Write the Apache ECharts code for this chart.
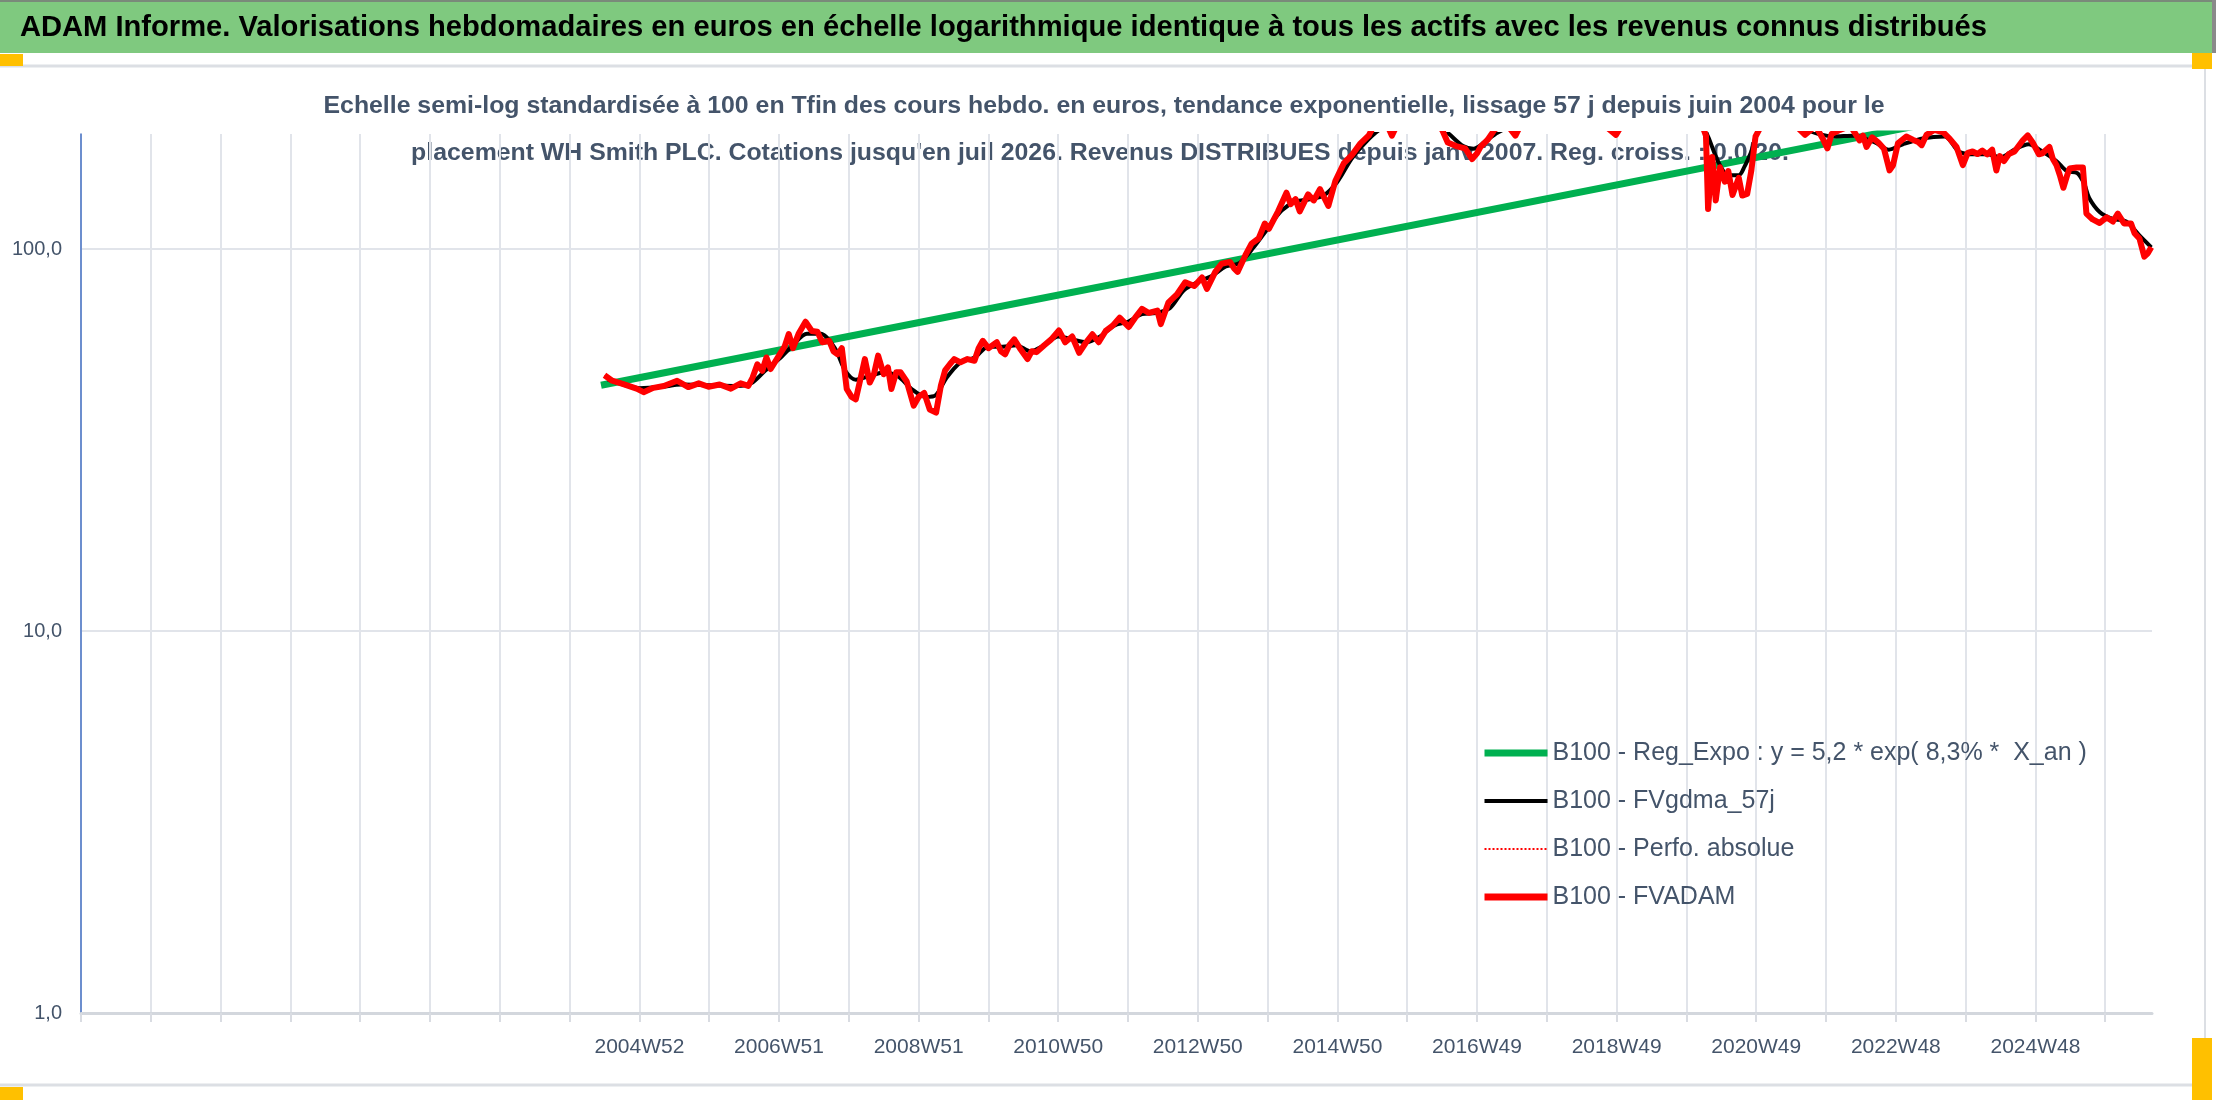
<!DOCTYPE html>
<html>
<head>
<meta charset="utf-8">
<script src="https://cdn.jsdelivr.net/npm/echarts@6/dist/echarts.min.js"></script>
<style>
  html, body { margin: 0; padding: 0; background: #fff; }
  #chart { width: 2216px; height: 1102px; }
</style>
</head>
<body>
<div id="chart"></div>
<script>
// Positions on x are in "year" units of the grid (one gridline = 52 weeks)
const xTickYears = [2005, 2007, 2009, 2011, 2013, 2015, 2017, 2019, 2021, 2023, 2025];
const xTickLabels = ['2004W52', '2006W51', '2008W51', '2010W50', '2012W50', '2014W50',
  '2016W49', '2018W49', '2020W49', '2022W48', '2024W48'];

// B100 - Reg_Expo (straight line in log scale)
const regX = [2004.45, 2026.67];
const regY = [44, 278];

// B100 - FVADAM (weekly valuation)
const fvX = [2004.50, 2004.61, 2004.77, 2004.96, 2005.06, 2005.20, 2005.35, 2005.54, 2005.70, 2005.85,
  2005.99, 2006.15, 2006.31, 2006.45, 2006.56, 2006.62, 2006.69, 2006.76, 2006.82, 2006.88,
  2007.01, 2007.08, 2007.14, 2007.20, 2007.28, 2007.38, 2007.47, 2007.55, 2007.62, 2007.72,
  2007.78, 2007.84, 2007.90, 2007.97, 2008.04, 2008.10, 2008.17, 2008.23, 2008.30, 2008.36,
  2008.42, 2008.50, 2008.56, 2008.61, 2008.68, 2008.74, 2008.83, 2008.93, 2009.00, 2009.08,
  2009.16, 2009.25, 2009.32, 2009.38, 2009.45, 2009.51, 2009.60, 2009.70, 2009.80, 2009.86,
  2009.92, 2010.00, 2010.12, 2010.18, 2010.24, 2010.30, 2010.37, 2010.45, 2010.56, 2010.62,
  2010.69, 2010.80, 2010.90, 2011.01, 2011.10, 2011.20, 2011.30, 2011.40, 2011.49, 2011.58,
  2011.68, 2011.78, 2011.88, 2012.01, 2012.10, 2012.20, 2012.30, 2012.42, 2012.47, 2012.58,
  2012.70, 2012.82, 2012.95, 2013.06, 2013.13, 2013.25, 2013.34, 2013.46, 2013.52, 2013.57,
  2013.68, 2013.77, 2013.87, 2013.96, 2014.02, 2014.15, 2014.27, 2014.33, 2014.40, 2014.46,
  2014.58, 2014.66, 2014.75, 2014.87, 2014.97, 2015.09, 2015.21, 2015.33, 2015.45, 2015.55,
  2015.65, 2015.78, 2015.90, 2016.10, 2016.30, 2016.50, 2016.58, 2016.70, 2016.83, 2016.93,
  2017.00, 2017.05, 2017.15, 2017.25, 2017.40, 2017.55, 2017.70, 2018.00, 2018.40, 2018.70,
  2018.99, 2019.20, 2019.60, 2019.90, 2020.15, 2020.25, 2020.28, 2020.31, 2020.37, 2020.42,
  2020.48, 2020.55, 2020.60, 2020.66, 2020.75, 2020.80, 2020.87, 2020.93, 2020.99, 2021.10,
  2021.40, 2021.70, 2021.85, 2021.95, 2022.02, 2022.08, 2022.20, 2022.35, 2022.48, 2022.53,
  2022.58, 2022.66, 2022.75, 2022.83, 2022.91, 2022.96, 2023.03, 2023.15, 2023.25, 2023.32,
  2023.37, 2023.44, 2023.55, 2023.68, 2023.77, 2023.87, 2023.96, 2024.03, 2024.10, 2024.17,
  2024.24, 2024.31, 2024.38, 2024.44, 2024.49, 2024.55, 2024.62, 2024.70, 2024.82, 2024.89,
  2024.96, 2025.05, 2025.10, 2025.20, 2025.25, 2025.30, 2025.35, 2025.40, 2025.45, 2025.49,
  2025.59, 2025.68, 2025.70, 2025.73, 2025.82, 2025.92, 2026.02, 2026.11, 2026.18, 2026.27,
  2026.37, 2026.42, 2026.49, 2026.56, 2026.61, 2026.66];
const fvY = [46.7, 45.2, 44.3, 43.1, 42.2, 43.3, 43.8, 45.2, 43.5, 44.5,
  43.6, 44.2, 43.1, 44.5, 43.8, 46, 49.9, 48, 52.0, 48.5,
  53.0, 55.5, 59.9, 55, 60, 64.5, 61, 60.7, 57, 57.5,
  54, 53, 55, 43, 41, 40.4, 46, 51.5, 44.7, 47,
  52.6, 47, 49, 43.0, 47.6, 47.6, 45, 38.9, 41, 42.0,
  38, 37.3, 44, 48.1, 50, 51.5, 50.5, 51.5, 51.0, 55,
  57.5, 55, 57, 54, 53, 56, 58, 55, 51.5, 54,
  53.7, 56, 58, 61.2, 57, 59, 53.5, 57, 59.8, 57,
  61, 63, 66.1, 62.5, 66, 69.7, 68, 69, 63.6, 72.5,
  76, 81.8, 80, 84.2, 78.6, 87.1, 91.5, 92.5, 89, 87.1,
  96.2, 103.3, 106.5, 116.6, 113, 125.5, 140.4, 131, 135, 125.5,
  139, 134, 143.4, 129.6, 150.6, 167.5, 176.4, 189, 198.4, 215,
  225, 198, 220, 235, 225, 205, 190, 186, 183.4, 172,
  178, 185, 193, 205, 215, 198, 225, 240, 230, 220,
  199, 230, 245, 240, 220, 205, 198, 127.3, 174, 134,
  163.6, 150, 160, 138.4, 153.5, 138, 139.3, 160.5, 197, 215,
  225, 199, 210, 195, 183.4, 200, 205, 210, 192.5, 198,
  185, 196, 190, 183, 160.6, 165.7, 189, 197, 193, 190.5,
  187, 199, 205, 202, 194.5, 185, 165.8, 178.6, 180, 177.3,
  181, 177, 182, 160.5, 175, 170, 177.3, 180, 192.6, 198.4,
  190, 177, 178, 185, 172, 166, 156, 144.6, 155, 162.4,
  163.5, 163.5, 146.6, 123.8, 119.5, 117, 121, 118, 123.8, 116.6,
  116.6, 110, 106.5, 95.5, 97.4, 101];

// B100 - FVgdma_57j (smoothed)
const maX = [2004.55, 2004.80, 2005.00, 2005.30, 2005.60, 2006.00, 2006.40, 2006.60, 2006.80, 2007.00,
  2007.20, 2007.40, 2007.60, 2007.80, 2007.95, 2008.10, 2008.30, 2008.50, 2008.70, 2008.90,
  2009.10, 2009.25, 2009.40, 2009.60, 2009.80, 2010.00, 2010.20, 2010.40, 2010.60, 2010.80,
  2011.00, 2011.20, 2011.40, 2011.60, 2011.80, 2012.00, 2012.20, 2012.40, 2012.60, 2012.80,
  2013.00, 2013.20, 2013.40, 2013.60, 2013.80, 2014.00, 2014.20, 2014.40, 2014.60, 2014.80,
  2015.00, 2015.20, 2015.40, 2015.60, 2016.00, 2016.40, 2016.60, 2016.80, 2016.95, 2017.10,
  2017.30, 2018.00, 2019.00, 2020.00, 2020.20, 2020.31, 2020.45, 2020.60, 2020.75, 2020.83,
  2020.93, 2021.05, 2021.50, 2021.90, 2022.10, 2022.40, 2022.70, 2022.90, 2023.10, 2023.40,
  2023.70, 2023.90, 2024.10, 2024.30, 2024.50, 2024.70, 2024.90, 2025.10, 2025.30, 2025.45,
  2025.60, 2025.70, 2025.77, 2025.92, 2026.10, 2026.30, 2026.50, 2026.66];
const maY = [45.5, 44, 43.2, 43.5, 44.2, 44, 43.8, 44.5, 48, 51.5,
  56, 60, 60, 55, 48, 45.5, 46.5, 47.5, 46.5, 43,
  41, 41.5, 46, 50.5, 52, 55.5, 55.5, 56, 54, 56,
  59, 58, 57, 59, 63, 64.5, 67.5, 68, 70, 78,
  82, 85, 90, 92, 101, 113, 126, 133, 135, 138,
  150, 172, 190, 205, 225, 215, 200, 186, 183, 190,
  202, 230, 235, 225, 215, 197, 170, 156, 156, 164,
  180, 205, 210, 200, 197, 198, 190, 182, 188, 195,
  197, 180, 177, 177, 174, 182, 188, 180, 170, 160,
  158, 148, 136, 125, 120, 118, 108, 101];

const seriesNames = [
  'B100 - Reg_Expo : y = 5,2 * exp( 8,3% *  X_an )',
  'B100 - FVgdma_57j',
  'B100 - Perfo. absolue',
  'B100 - FVADAM'
];

const bannerText = 'ADAM Informe. Valorisations hebdomadaires en euros en échelle logarithmique identique à tous les actifs avec les revenus connus distribués';
const subLine1 = 'Echelle semi-log standardisée à 100 en Tfin des cours hebdo. en euros, tendance exponentielle, lissage 57 j depuis juin 2004 pour le';
const subLine2 = 'placement WH Smith PLC. Cotations jusqu\'en juil 2026. Revenus DISTRIBUES depuis janv 2007. Reg. croiss. : 0,0/20.';

const FONT = "'Liberation Sans Narrow', 'Liberation Sans', 'Noto Sans', sans-serif";
const TXT = '#44546A';

// horizontal squeeze so a text of a given size reaches a given width (narrow look)
const ctx = document.createElement('canvas').getContext('2d');
function squeeze(text, font, width) {
  ctx.font = font;
  return width / ctx.measureText(text).width;
}
const bannerFont = 'bold 29px ' + FONT;
const subFont = 'bold 23px ' + FONT;
const bannerScale = squeeze(bannerText, bannerFont, 1967);
const subScale = squeeze(subLine1, subFont, 1561);

const zip = (xs, ys) => xs.map((x, i) => [x, ys[i]]);

const chart = echarts.init(document.getElementById('chart'));

// x gridlines: one per tick, the one at the axis end hidden
const xGridColors = new Array(30).fill('#e1e4ea').concat(['rgba(0,0,0,0)']);

const option = {
  animation: false,
  backgroundColor: '#fff',
  textStyle: { fontFamily: FONT },
  graphic: [
    { type: 'rect', z: -10, shape: { x: 0, y: 0, width: 2212, height: 53 }, style: { fill: '#7fc97f' } },
    { type: 'rect', z: -10, shape: { x: 0, y: 0, width: 2216, height: 2 }, style: { fill: '#7a8a7a' } },
    { type: 'rect', z: -10, shape: { x: 2212, y: 0, width: 4, height: 53 }, style: { fill: '#8a8a8a' } },
    { type: 'text', z: -10, x: 20, y: 28, scaleX: bannerScale, style: { text: bannerText, font: bannerFont, fill: '#000', verticalAlign: 'middle' } },
    { type: 'text', z: -10, x: 1104, y: 107, scaleX: subScale, style: { text: subLine1, font: subFont, fill: TXT, align: 'center', verticalAlign: 'middle' } },
    { type: 'text', z: -10, x: 1100, y: 154, scaleX: subScale, style: { text: subLine2, font: subFont, fill: TXT, align: 'center', verticalAlign: 'middle' } },
    { type: 'line', z: -10, shape: { x1: 0, y1: 66, x2: 2205, y2: 66 }, style: { stroke: '#dcdfe4', lineWidth: 3 } },
    { type: 'line', z: -10, shape: { x1: 0, y1: 1085, x2: 2205, y2: 1085 }, style: { stroke: '#dcdfe4', lineWidth: 3 } },
    { type: 'line', z: -10, shape: { x1: 2205, y1: 66, x2: 2205, y2: 1085 }, style: { stroke: '#dcdfe4', lineWidth: 2 } },
    { type: 'rect', z: -10, shape: { x: 0, y: 54, width: 23, height: 12 }, style: { fill: '#ffc000' } },
    { type: 'rect', z: -10, shape: { x: 2192, y: 53, width: 20, height: 16 }, style: { fill: '#ffc000' } },
    { type: 'rect', z: -10, shape: { x: 2192, y: 1038, width: 20, height: 62 }, style: { fill: '#ffc000' } },
    { type: 'rect', z: -10, shape: { x: 0, y: 1087, width: 23, height: 13 }, style: { fill: '#ffc000' } }
  ],
  legend: {
    orient: 'vertical',
    left: 1476,
    top: 733,
    itemWidth: 63,
    itemHeight: 14,
    itemGap: 18,
    itemStyle: { opacity: 0 },
    data: [
      { name: seriesNames[0], lineStyle: { width: 7, color: '#00b050' } },
      { name: seriesNames[1], lineStyle: { width: 4, color: '#000000' } },
      { name: seriesNames[2], lineStyle: { width: 2, color: '#ff0000', type: 'dotted' } },
      { name: seriesNames[3], lineStyle: { width: 7, color: '#ff0000' } }
    ],
    textStyle: { fontFamily: FONT, fontSize: 25, color: TXT, lineHeight: 30 }
  },
  grid: { left: 81, right: 64, top: 134, bottom: 89 },
  xAxis: {
    type: 'value',
    min: 1997,
    max: 2026.67,
    interval: 1,
    axisLine: { show: true, onZero: false, lineStyle: { color: '#d3d7dd', width: 3 } },
    axisTick: { show: true, length: 9, lineStyle: { color: '#d9dce2', width: 2 } },
    axisLabel: {
      margin: 24,
      fontFamily: FONT,
      fontSize: 21,
      color: TXT,
      showMaxLabel: false,
      formatter: function (v) {
        const r = Math.round(v);
        const i = xTickYears.indexOf(r);
        return (Math.abs(v - r) < 1e-6 && i >= 0) ? xTickLabels[i] : '';
      }
    },
    splitLine: { show: true, lineStyle: { color: xGridColors, width: 2 } }
  },
  yAxis: {
    type: 'log',
    logBase: 10,
    min: 1,
    max: 200,
    axisLine: { show: true, lineStyle: { color: '#4472c4', width: 1.5 } },
    axisTick: { show: false },
    axisLabel: {
      margin: 19,
      fontFamily: FONT,
      fontSize: 20,
      color: TXT,
      showMaxLabel: false,
      formatter: function (v) {
        return [1, 10, 100].indexOf(Math.round(v)) >= 0 ? v.toFixed(1).replace('.', ',') : '';
      }
    },
    splitLine: { show: true, lineStyle: { color: ['#e1e4ea', '#e1e4ea', '#e1e4ea', 'rgba(0,0,0,0)'], width: 2 } }
  },
  series: [
    {
      name: seriesNames[0],
      type: 'line',
      data: zip(regX, regY),
      symbol: 'none',
      clip: true,
      z: 2,
      lineStyle: { color: '#00b050', width: 7 },
      itemStyle: { color: '#00b050' }
    },
    {
      name: seriesNames[1],
      type: 'line',
      data: zip(maX, maY),
      symbol: 'none',
      smooth: 0.3,
      clip: true,
      z: 3,
      lineStyle: { color: '#000000', width: 4 },
      itemStyle: { color: '#000000' }
    },
    {
      name: seriesNames[2],
      type: 'line',
      data: zip(fvX, fvY),
      symbol: 'none',
      clip: true,
      z: 3,
      lineStyle: { color: '#ff0000', width: 2, type: 'dotted' },
      itemStyle: { color: '#ff0000' }
    },
    {
      name: seriesNames[3],
      type: 'line',
      data: zip(fvX, fvY),
      symbol: 'none',
      clip: true,
      z: 4,
      lineStyle: { color: '#ff0000', width: 6, join: 'round' },
      itemStyle: { color: '#ff0000' }
    }
  ]
};

chart.setOption(option);
window.addEventListener('resize', () => chart.resize());
</script>
</body>
</html>
